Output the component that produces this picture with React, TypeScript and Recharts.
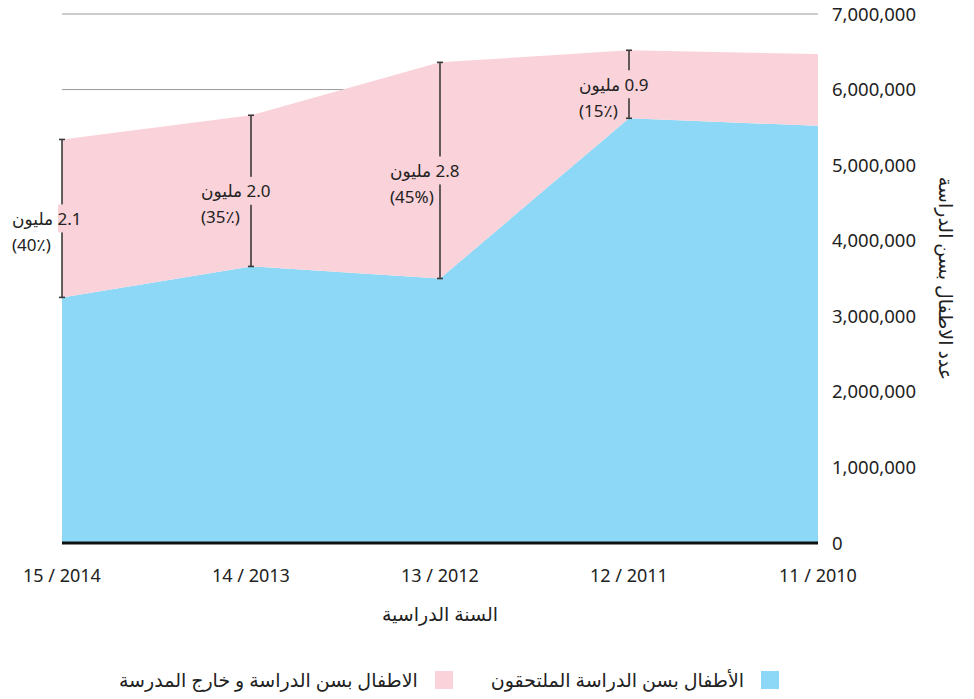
import { AreaChart, Area, Line, XAxis, YAxis, CartesianGrid, ErrorBar, LabelList, Label } from "recharts";

const years = ["11 / 2010", "12 / 2011", "13 / 2012", "14 / 2013", "15 / 2014"];
const enrolled = [5520000, 5620000, 3500000, 3660000, 3250000];
const outOfSchool = [950000, 900000, 2860000, 2000000, 2090000];
const gapMillions = [null, "0.9", "2.8", "2.0", "2.1"];
const gapPercent = [null, "(15٪)", "(45%)", "(35٪)", "(40٪)"];
const yTicks = [0, 1000000, 2000000, 3000000, 4000000, 5000000, 6000000, 7000000];

const BLUE = "#8ed8f7";
const PINK = "#fad2d9";
const FONT = "'Noto Sans', 'DejaVu Sans', sans-serif";

const data = years.map((year, i) => ({
  year,
  enrolled: enrolled[i],
  outOfSchool: outOfSchool[i],
  mid: gapMillions[i] ? enrolled[i] + outOfSchool[i] / 2 : null,
  half: gapMillions[i] ? outOfSchool[i] / 2 : null,
}));

function GapLabel(props: any) {
  const { x, y, index } = props;
  if (!gapMillions[index] || x == null || y == null) return null;
  return (
    <g>
      <rect x={x - 4} y={y - 14} width={8} height={28} fill={PINK} />
      <text x={x - 50} y={y} dominantBaseline="central" fontSize={17} fill="#222" fontFamily={FONT}>
        {"\u200F" + gapMillions[index] + " مليون"}
      </text>
      <text x={x - 50} y={y + 26} dominantBaseline="central" fontSize={17} fill="#222" fontFamily={FONT}>
        {gapPercent[index]}
      </text>
    </g>
  );
}

function YTitle(props: any) {
  const { viewBox } = props;
  const cx = viewBox.x + 128;
  const cy = viewBox.y + viewBox.height / 2;
  return (
    <text
      x={cx}
      y={cy}
      transform={`rotate(90 ${cx} ${cy})`}
      textAnchor="middle"
      dominantBaseline="central"
      fontSize={19}
      fill="#222"
      fontFamily={FONT}
    >
      عدد الاطفال بسن الدراسة
    </text>
  );
}

function LegendItem({ color, text }: { color: string; text: string }) {
  return (
    <div style={{ display: "flex", alignItems: "center", gap: 17 }}>
      <div style={{ width: 18, height: 18, background: color }} />
      <span>{text}</span>
    </div>
  );
}

export default function App() {
  return (
    <div style={{ position: "absolute", left: 0, top: 0, width: 974, height: 699, fontFamily: FONT }}>
      <AreaChart width={974} height={699} data={data} margin={{ top: 14, right: 0, bottom: 66, left: 62 }}>
        <CartesianGrid vertical={false} stroke="#999" />
        <XAxis
          dataKey="year"
          reversed
          height={90}
          axisLine={{ stroke: "#111", strokeWidth: 3 }}
          tickLine={false}
          tickMargin={20}
          tick={{ fill: "#222", fontSize: 18, fontFamily: FONT }}
        >
          <Label value="السنة الدراسية" position="insideBottom" offset={12} fill="#222" fontSize={19} fontFamily={FONT} />
        </XAxis>
        <YAxis
          orientation="right"
          width={156}
          domain={[0, 7000000]}
          ticks={yTicks}
          axisLine={false}
          tickLine={false}
          tickMargin={8}
          tickFormatter={(v: number) => v.toLocaleString("en-US")}
          tick={{ fill: "#222", fontSize: 18.5, fontFamily: FONT }}
        >
          <Label content={YTitle} />
        </YAxis>
        <Area
          type="linear"
          dataKey="enrolled"
          stackId="a"
          stroke="none"
          fill={BLUE}
          fillOpacity={1}
          isAnimationActive={false}
        />
        <Area
          type="linear"
          dataKey="outOfSchool"
          stackId="a"
          stroke="none"
          fill={PINK}
          fillOpacity={1}
          isAnimationActive={false}
        />
        <Line
          dataKey="mid"
          stroke="none"
          dot={false}
          activeDot={false}
          isAnimationActive={false}
        >
          <ErrorBar dataKey="half" direction="y" width={3} stroke="#3a3a3a" strokeWidth={1.6} />
          <LabelList dataKey="mid" content={GapLabel} />
        </Line>
      </AreaChart>
      <div
        style={{
          position: "absolute",
          top: 667,
          left: 0,
          width: 898,
          display: "flex",
          direction: "rtl",
          justifyContent: "center",
          gap: 38,
          fontSize: 19,
          color: "#222",
        }}
      >
        <LegendItem color={BLUE} text="الأطفال بسن الدراسة الملتحقون" />
        <LegendItem color={PINK} text="الاطفال بسن الدراسة و خارج المدرسة" />
      </div>
    </div>
  );
}
